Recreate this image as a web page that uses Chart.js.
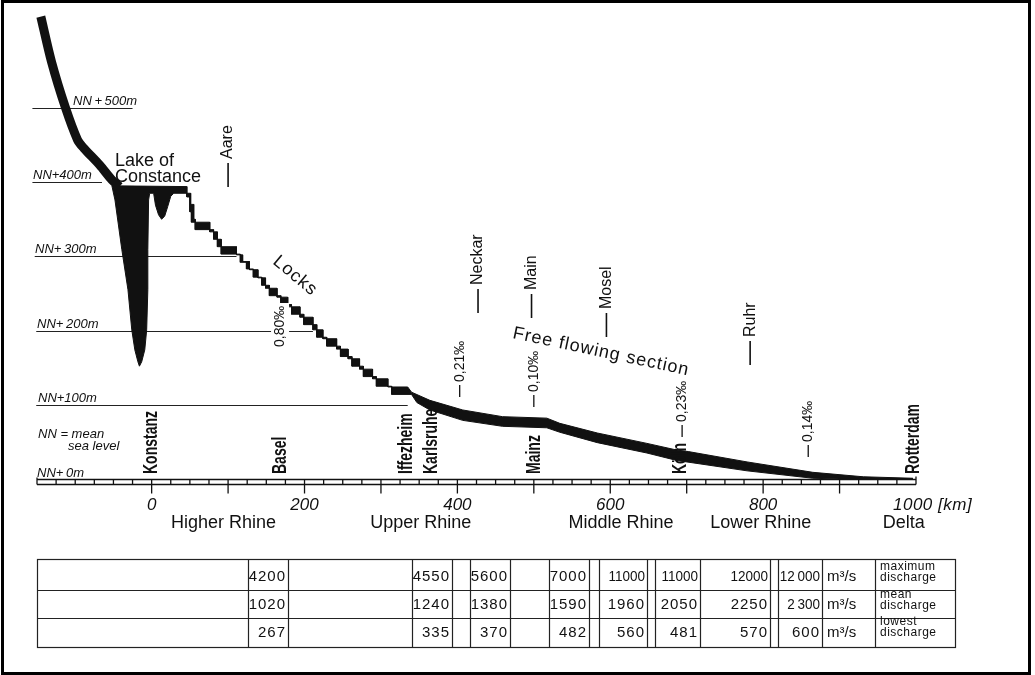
<!DOCTYPE html>
<html lang="en">
<head>
<meta charset="UTF-8">
<title>Longitudinal profile of the Rhine</title>
<script src="https://cdn.jsdelivr.net/npm/chart.js"></script>
<style>
  body { margin: 0; background: #fff; }
  .wrap { position: relative; width: 1035px; height: 675px; }
</style>
</head>
<body>
<div class="wrap"><canvas id="profile"></canvas></div>
<script>
// headwater from the Alps down to Lake of Constance (centre of the stroke), km / m
const headKm = [-145, -131, -113, -97, -89, -68, -52, -42];
const headM  = [623, 562, 501, 457, 446, 423, 403, 394];

// water level (upper edge of the black band)
const surfaceKm = [-52, 46, 46, 50, 50, 52, 52, 76, 76, 86, 86, 111, 111, 119, 119, 128, 128, 139, 139, 149, 149,
  164, 164, 178, 178, 194, 194, 211, 211, 224, 224, 242, 242, 257, 257, 272, 272, 289, 289, 309, 309,
  335, 340, 364, 407, 459, 517, 534, 583, 648, 687, 702, 779, 865, 931, 996];
const surfaceM = [395, 394, 380, 380, 360, 360, 346, 346, 333, 333, 313, 313, 302, 302, 293, 293, 282, 282, 271, 271, 257,
  257, 245, 245, 232, 232, 218, 218, 201, 201, 189, 189, 175, 175, 162, 162, 148, 148, 135, 135, 124,
  124, 117, 106, 93, 84, 82, 75, 62, 48, 39, 37, 23, 9, 3, 1];

// lower edge: lake floors, lock steps, river bed
const bedKm = [-52, -48, -39, -31, -26, -22, -18, -16, -13, -9, -6.5, -5, -5, -4, -2.6, 2.6, 5, 9, 13, 17,
  21, 25, 29, 51, 51, 55, 55, 57, 57, 81, 81, 91, 91, 116, 116, 124, 124, 133, 133, 144,
  144, 154, 154, 169, 169, 183, 183, 199, 199, 216, 216, 229, 229, 247, 247, 262, 262, 277, 277, 294,
  294, 314, 314, 340, 347, 364, 407, 459, 517, 534, 583, 648, 687, 779, 865, 900, 996];
const bedM = [395, 376, 309, 255, 201, 174, 158, 152, 158, 174, 201, 255, 309, 376, 385, 385, 369, 356, 350, 354,
  367, 381, 385, 385, 370, 370, 350, 350, 336, 336, 323, 323, 303, 303, 292, 292, 283, 283, 272, 272,
  261, 261, 247, 247, 235, 235, 222, 222, 208, 208, 191, 191, 179, 179, 165, 165, 152, 152, 138, 138,
  125, 125, 114, 114, 103, 93, 79, 71, 69, 63, 49, 35, 25, 11, 1, 0, 0];

// height reference lines
const levelM = [500, 400, 300, 200, 100];
const levelLabels = ['NN\u2009+\u2009500m', 'NN+400m', 'NN+\u2009300m', 'NN+\u2009200m', 'NN+100m'];
const levelFromKm = [-156, -156, -153, -151, -151];
const levelToKm = [-25, -65, 111, 211, 335];

const kmTicks = [0, 200, 400, 600, 800, 1000];

const cityNames = ['Konstanz', 'Basel', 'Iffezheim', 'Karlsruhe', 'Mainz', 'Köln', 'Rotterdam'];
const cityKm = [0, 169, 334, 366, 501, 692, 997];

const tribNames = ['Aare', 'Neckar', 'Main', 'Mosel', 'Ruhr'];
const tribKm = [100, 427, 497, 595, 783];

const slopeLabels = ['0,80‰', '0,21‰', '0,10‰', '0,23‰', '0,14‰'];
const slopeKm = [168, 403, 500, 694, 859];

const regionNames = ['Higher Rhine', 'Upper Rhine', 'Middle Rhine', 'Lower Rhine', 'Delta'];
const regionKm = [94, 352, 614, 797, 984];

// discharge table (m³/s)
const maxDischarge = [4200, 4550, 5600, 7000, 11000, 11000, 12000, 12000];
const meanDischarge = [1020, 1240, 1380, 1590, 1960, 2050, 2250, 2300];
const lowDischarge = [267, 335, 370, 482, 560, 481, 570, 600];
const rowNames = [['maximum', 'discharge'], ['mean', 'discharge'], ['lowest', 'discharge']];

const INK = '#111';
const SANS = "'Liberation Sans', Arial, sans-serif";

const pts = (xs, ys) => xs.map((v, i) => ({ x: v, y: ys[i] }));

function txt(ctx, s, px, py, font, o = {}) {
  ctx.save();
  ctx.translate(px, py);
  if (o.rot) ctx.rotate(o.rot);
  if (o.sx) ctx.scale(o.sx, 1);
  ctx.font = font;
  ctx.textAlign = o.align || 'left';
  ctx.textBaseline = o.base || 'alphabetic';
  ctx.letterSpacing = o.ls || '0px';
  ctx.fillStyle = INK;
  ctx.fillText(s, 0, 0);
  ctx.restore();
}

function seg(ctx, x1, y1, x2, y2) {
  ctx.beginPath();
  ctx.moveTo(x1, y1);
  ctx.lineTo(x2, y2);
  ctx.stroke();
}

const decor = {
  id: 'decor',
  beforeDatasetsDraw(chart) {
    const { ctx, scales: { x, y } } = chart;
    ctx.save();
    ctx.strokeStyle = '#222';
    ctx.lineWidth = 1;
    levelM.forEach((m, i) => {
      const py = Math.round(y.getPixelForValue(m)) + 0.5;
      seg(ctx, x.getPixelForValue(levelFromKm[i]), py, x.getPixelForValue(levelToKm[i]), py);
    });
    ctx.restore();
  },
  afterDraw(chart) {
    const { ctx, scales: { x, y } } = chart;
    const X = v => x.getPixelForValue(v);
    const Y = v => y.getPixelForValue(v);
    ctx.save();
    ctx.strokeStyle = INK;

    // km ruler
    const y0 = Math.round(Y(0)) + 0.5, y1 = y0 + 5;
    const xa = X(-150), xb = X(1000);
    ctx.lineWidth = 1.3;
    seg(ctx, xa, y0, xb, y0);
    seg(ctx, xa, y1, xb, y1);
    seg(ctx, xa, y0 - 2, xa, y1);
    seg(ctx, xb, y0 - 3, xb, y1);
    for (let k = -125; k < 1000; k += 25) {
      if (k >= 0 && k % 100 === 0) seg(ctx, X(k), y0, X(k), y0 + 14);
      else seg(ctx, X(k), y0, X(k), y1);
    }
    kmTicks.forEach(k => {
      if (k === 1000) txt(ctx, '1000 [km]', X(k) - 23, 510, 'italic 17px ' + SANS, { ls: '0.5px' });
      else txt(ctx, String(k), X(k), 510, 'italic 17px ' + SANS, { align: 'center' });
    });
    regionNames.forEach((r, i) => txt(ctx, r, X(regionKm[i]), 528, '18px ' + SANS, { align: 'center' }));

    // height labels
    const nnX = [73, 33, 35, 37, 38];
    levelLabels.forEach((l, i) => txt(ctx, l, nnX[i], Math.round(Y(levelM[i])) - 3, 'italic 13px ' + SANS));
    txt(ctx, 'NN+\u20090m', 37, y0 - 3, 'italic 13px ' + SANS);
    txt(ctx, 'NN = mean', 38, 438, 'italic 13px ' + SANS);
    txt(ctx, 'sea level', 68, 450, 'italic 13px ' + SANS);

    // places along the river
    cityNames.forEach((c, i) => txt(ctx, c, X(cityKm[i]), 474, 'bold 20px ' + SANS,
      { rot: -Math.PI / 2, base: 'middle', sx: 0.7 }));

    // tributaries
    const tribBottom = [187, 313, 318, 337, 365];
    ctx.lineWidth = 1.6;
    tribNames.forEach((t, i) => {
      const px = X(tribKm[i]), b = tribBottom[i];
      seg(ctx, px, b, px, b - 24);
      txt(ctx, t, px, b - 28, '16px ' + SANS, { rot: -Math.PI / 2, base: 'middle' });
    });

    // gradients
    const slopeBottom = [347, 397, 407, 437, 457];
    slopeLabels.forEach((s, i) => {
      const px = X(slopeKm[i]), b = slopeBottom[i];
      if (i === 0) {
        ctx.fillStyle = '#fff';
        ctx.fillRect(px - 9, b - 44, 18, 46);
        txt(ctx, s, px, b, '14px ' + SANS, { rot: -Math.PI / 2, base: 'middle' });
      } else {
        ctx.lineWidth = 1.3;
        seg(ctx, px, b, px, b - 12);
        txt(ctx, s, px, b - 15, '14px ' + SANS, { rot: -Math.PI / 2, base: 'middle' });
      }
    });

    txt(ctx, 'Lake of', 115, 166, '18px ' + SANS);
    txt(ctx, 'Constance', 115, 182, '18px ' + SANS);
    txt(ctx, 'Locks', 272, 263, '18px ' + SANS, { rot: 40 * Math.PI / 180, ls: '1px' });
    txt(ctx, 'Free flowing section', 512, 338, '18px ' + SANS, { rot: 12 * Math.PI / 180, ls: '1px' });

    // discharge table
    const rowsY = [559, 590, 618, 647];
    const colX = [248, 288, 412, 452, 470, 510, 549, 589, 599, 647, 655, 700, 770, 778, 822, 875];
    const cellRight = [288, 452, 510, 589, 647, 700, 770, 822];
    ctx.lineWidth = 1.2;
    ctx.strokeStyle = '#222';
    ctx.strokeRect(37.5, rowsY[0] + 0.5, 918, rowsY[3] - rowsY[0]);
    rowsY.slice(1, 3).forEach(r => seg(ctx, 37, r + 0.5, 955, r + 0.5));
    colX.forEach(c => seg(ctx, c + 0.5, rowsY[0], c + 0.5, rowsY[3]));
    const base = [581, 609, 637];
    const labelBase = [[570, 581], [598, 609], [625, 636]];
    [maxDischarge, meanDischarge, lowDischarge].forEach((row, r) => {
      row.forEach((v, i) => {
        const last = i === row.length - 1;
        let s = String(v);
        if (last && v >= 1000) s = s.slice(0, -3) + '\u2009' + s.slice(-3);
        const long = s.length > 4;
        txt(ctx, s, cellRight[i] - 2, base[r], '15px ' + SANS,
          { align: 'right', ls: long ? '0px' : '1px', sx: long ? 0.9 : 1 });
      });
      txt(ctx, 'm³/s', 827, base[r], '15px ' + SANS);
      txt(ctx, rowNames[r][0], 880, labelBase[r][0], '12px ' + SANS, { ls: '0.5px' });
      txt(ctx, rowNames[r][1], 880, labelBase[r][1], '12px ' + SANS, { ls: '0.5px' });
    });

    // frame
    ctx.lineWidth = 3;
    ctx.strokeStyle = '#000';
    ctx.strokeRect(2.5, 1.5, 1027, 672);
    ctx.restore();
  }
};

new Chart(document.getElementById('profile'), {
  type: 'line',
  data: {
    datasets: [
      { label: 'Headwater', data: pts(headKm, headM), borderColor: INK, borderWidth: 9,
        pointRadius: 0, tension: 0.3, fill: false, borderCapStyle: 'butt', clip: false },
      { label: 'Water level', data: pts(surfaceKm, surfaceM), borderColor: INK, borderWidth: 1,
        pointRadius: 0, tension: 0, fill: false, clip: false },
      { label: 'Bed', data: pts(bedKm, bedM), borderColor: INK, borderWidth: 1,
        pointRadius: 0, tension: 0, fill: '-1', backgroundColor: INK, clip: false }
    ]
  },
  options: {
    responsive: true,
    maintainAspectRatio: false,
    animation: false,
    layout: { padding: { left: 37, right: 119, top: 4, bottom: 196 } },
    plugins: { legend: { display: false }, tooltip: { enabled: false } },
    scales: {
      x: { type: 'linear', min: -150, max: 1000, display: false },
      y: { min: 0, max: 640, display: false }
    }
  },
  plugins: [decor]
});
</script>
</body>
</html>
